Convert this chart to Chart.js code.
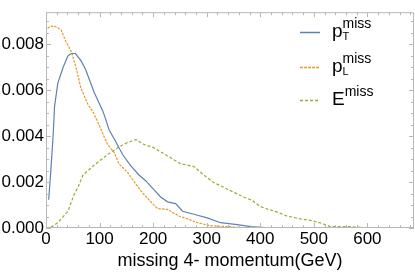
<!DOCTYPE html>
<html>
<head>
<meta charset="utf-8">
<script src="https://cdn.jsdelivr.net/npm/chart.js@4/dist/chart.umd.min.js"></script>
<style>
html,body{margin:0;padding:0;background:#fff;}
#wrap{position:relative;width:415px;height:274px;}
</style>
</head>
<body>
<div id="wrap"><canvas id="c" width="415" height="274"></canvas></div>
<script>
// ---- data ----
const ptX = [5, 9, 13, 16, 22, 32, 41, 47, 55, 65, 74, 82, 90, 98, 106, 112, 118, 127, 143, 158, 174, 186, 201, 214, 227, 242, 255, 276, 301, 326, 357, 382, 424];
const ptY = [0.00123, 0.0025, 0.0039, 0.0053, 0.0063, 0.0070, 0.0075, 0.0076, 0.0076, 0.0073, 0.0069, 0.0064, 0.0059, 0.0055, 0.0051, 0.0047, 0.00426, 0.0039, 0.0032, 0.00272, 0.0023, 0.00206, 0.00168, 0.00135, 0.00114, 0.00106, 0.00073, 0.0006, 0.00044, 0.00023, 0.00015, 0.00006, 0.0];
const plX = [3, 8, 15, 22, 28, 37, 47, 56, 65, 78, 89, 99, 108, 115, 127, 136, 153, 168, 182, 199, 208, 227, 248, 264, 283, 307, 339, 363, 400];
const plY = [0.0087, 0.00878, 0.0088, 0.00872, 0.00863, 0.00813, 0.0077, 0.0070, 0.0061, 0.0054, 0.0050, 0.0045, 0.0040, 0.00364, 0.0033, 0.0028, 0.0024, 0.0019, 0.00148, 0.00106, 0.00085, 0.00081, 0.00052, 0.0004, 0.00023, 0.0001, 0.00006, 0.00002, 0.0];
const eX = [0, 10, 22, 41, 52, 60, 69, 89, 115, 134, 150, 168, 183, 201, 227, 251, 276, 295, 313, 332, 350, 369, 385, 400, 410, 432, 450, 475, 499, 516, 531, 568, 592, 629, 667];
const eY = [0.0, 0.00005, 0.00023, 0.00073, 0.00143, 0.0018, 0.0023, 0.00272, 0.0032, 0.0035, 0.0037, 0.00385, 0.00364, 0.0035, 0.00314, 0.0028, 0.00268, 0.0023, 0.00198, 0.00177, 0.00156, 0.00135, 0.0012, 0.00094, 0.00085, 0.00069, 0.00052, 0.0004, 0.00031, 0.00019, 0.00006, 0.00006, 0.00002, 0.00001, 0.0];
const seriesBase = ["p", "p", "E"];
const seriesSub = ["T", "L", ""];
const seriesSup = ["miss", "miss", "miss"];
const xTickValues = [0, 100, 200, 300, 400, 500, 600];
const yTickValues = [0.000, 0.002, 0.004, 0.006, 0.008];
const xTitle = "missing 4- momentum(GeV)";

// ---- styles ----
const colors = ["#5E81B5", "#E19C24", "#8FB032"];
const dashes = [[], [2.5, 1.2], [3, 2]];
const FONT = "'Liberation Sans', Arial, sans-serif";
const FRAME = "#b8b8b8";

function pts(xs, ys) { return xs.map((x, i) => ({x: x, y: ys[i]})); }
const seriesData = [pts(ptX, ptY), pts(plX, plY), pts(eX, eY)];

const frameTicks = {
  id: 'frameTicks',
  afterDatasetsDraw(chart) {
    const ctx = chart.ctx, a = chart.chartArea;
    const xs = chart.scales.x, ys = chart.scales.y;
    ctx.save();
    ctx.strokeStyle = FRAME;
    ctx.lineWidth = 1;
    ctx.strokeRect(a.left + 0.5, a.top + 0.5, a.right - a.left - 1, a.bottom - a.top - 1);
    ctx.beginPath();
    for (let v = 0; v <= xs.max + 1e-9; v += 20) {
      const px = Math.round(xs.getPixelForValue(v)) + 0.5;
      const len = (v % 100 === 0) ? 5 : 3;
      ctx.moveTo(px, a.bottom); ctx.lineTo(px, a.bottom - len);
      ctx.moveTo(px, a.top); ctx.lineTo(px, a.top + len);
    }
    for (let k = 0; k * 0.0005 <= ys.max + 1e-12; k++) {
      const py = Math.round(ys.getPixelForValue(k * 0.0005)) + 0.5;
      const len = (k % 4 === 0) ? 5 : 3;
      ctx.moveTo(a.left, py); ctx.lineTo(a.left + len, py);
      ctx.moveTo(a.right, py); ctx.lineTo(a.right - len, py);
    }
    ctx.stroke();

    // legend
    const lx0 = 300, lx1 = 320, tx = 332;
    const rowsY = [32, 67, 100];
    for (let i = 0; i < 3; i++) {
      const y = rowsY[i] + 0.5;
      ctx.strokeStyle = colors[i];
      ctx.lineWidth = 1.5;
      ctx.setLineDash(i === 1 ? [3, 1] : dashes[i]);
      ctx.beginPath(); ctx.moveTo(lx0, y); ctx.lineTo(lx1, y); ctx.stroke();
      ctx.setLineDash([]);
      ctx.fillStyle = "#000";
      ctx.textBaseline = "alphabetic";
      ctx.textAlign = "left";
      const base = rowsY[i] + 5;
      ctx.font = "19px " + FONT;
      ctx.fillText(seriesBase[i], tx, base);
      let w = ctx.measureText(seriesBase[i]).width;
      let supX = tx + w;
      if (seriesSub[i]) {
        ctx.font = "11px " + FONT;
        ctx.fillText(seriesSub[i], tx + w, base + 3);
      }
      ctx.font = "14px " + FONT;
      ctx.fillText(seriesSup[i], supX, base - 9);
    }
    ctx.restore();
  }
};

new Chart(document.getElementById('c'), {
  type: 'line',
  data: {
    datasets: seriesData.map((d, i) => ({
      label: seriesBase[i] + seriesSub[i] + " " + seriesSup[i],
      data: d,
      borderColor: colors[i],
      borderWidth: 1.2,
      borderDash: dashes[i],
      pointRadius: 0,
      tension: 0,
      fill: false
    }))
  },
  options: {
    responsive: false,
    animation: false,
    devicePixelRatio: 1,
    layout: {padding: {top: 1, right: 1, left: 0, bottom: 0}},
    plugins: {legend: {display: false}, tooltip: {enabled: false}},
    scales: {
      x: {
        type: 'linear', min: 0, max: 687,
        afterFit(s) { s.height = 46; },
        afterBuildTicks(s) { s.ticks = xTickValues.map(v => ({value: v})); },
        ticks: {font: {family: FONT, size: 17}, color: '#000', padding: 1, maxRotation: 0, autoSkip: false,
                callback: v => String(v)},
        grid: {display: false, drawTicks: false},
        border: {display: false},
        title: {display: true, text: xTitle, color: '#000', font: {family: FONT, size: 18}, padding: {top: 0, bottom: 2}}
      },
      y: {
        type: 'linear', min: 0, max: 0.0094,
        afterFit(s) { s.width = 46; },
        afterBuildTicks(s) { s.ticks = yTickValues.map(v => ({value: v})); },
        ticks: {font: {family: FONT, size: 17}, color: '#000', padding: 2, autoSkip: false,
                callback: v => Number(v).toFixed(3)},
        grid: {display: false, drawTicks: false},
        border: {display: false}
      }
    }
  },
  plugins: [frameTicks]
});
</script>
</body>
</html>
